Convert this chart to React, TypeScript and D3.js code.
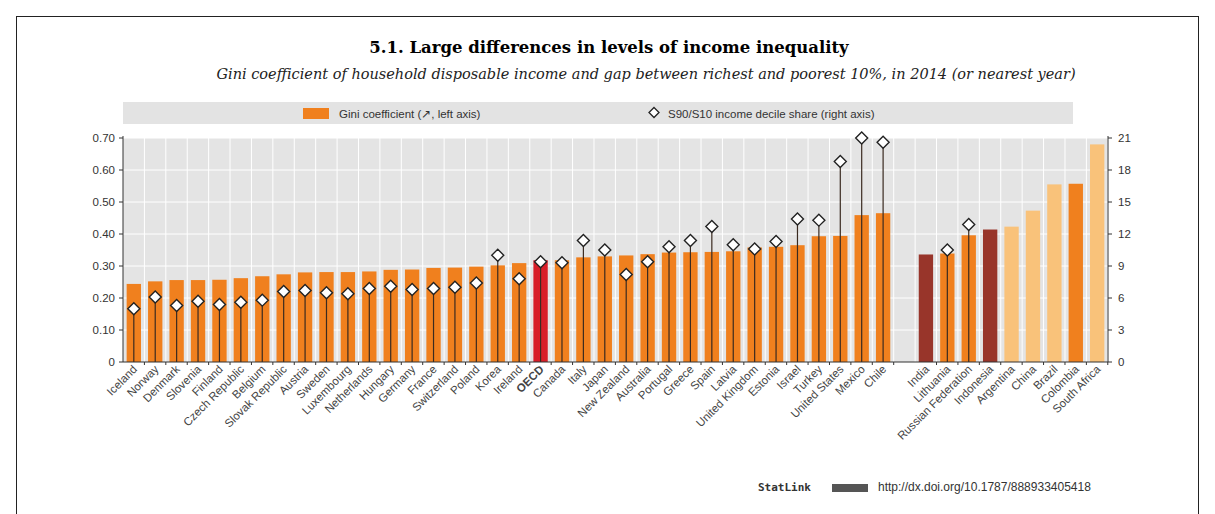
import React from "react";
import * as d3 from "d3";

const countries = ["Iceland","Norway","Denmark","Slovenia","Finland","Czech Republic","Belgium","Slovak Republic","Austria","Sweden","Luxembourg","Netherlands","Hungary","Germany","France","Switzerland","Poland","Korea","Ireland","OECD","Canada","Italy","Japan","New Zealand","Australia","Portugal","Greece","Spain","Latvia","United Kingdom","Estonia","Israel","Turkey","United States","Mexico","Chile","","India","Lithuania","Russian Federation","Indonesia","Argentina","China","Brazil","Colombia","South Africa"];
const gini = [0.244,0.252,0.256,0.256,0.257,0.262,0.268,0.274,0.280,0.281,0.281,0.283,0.288,0.289,0.294,0.295,0.298,0.302,0.309,0.318,0.318,0.327,0.330,0.333,0.337,0.342,0.343,0.344,0.346,0.358,0.360,0.365,0.393,0.394,0.459,0.465,null,0.336,0.339,0.396,0.414,0.423,0.473,0.555,0.557,0.68];
const s90s10 = [5.0,6.1,5.3,5.7,5.4,5.6,5.8,6.6,6.7,6.5,6.4,6.9,7.1,6.8,6.9,7.0,7.4,10.0,7.8,9.4,9.3,11.4,10.5,8.2,9.4,10.8,11.4,12.7,11.0,10.6,11.3,13.4,13.3,18.8,21.0,20.6,null,null,10.5,12.9,null,null,null,null,null,null];
const kinds = ["o","o","o","o","o","o","o","o","o","o","o","o","o","o","o","o","o","o","o","avg","o","o","o","o","o","o","o","o","o","o","o","o","o","o","o","o","","dark","o","o","dark","light","light","light","o","light"];
const leftTicks = [0,0.1,0.2,0.3,0.4,0.5,0.6,0.7];
const rightTicks = [0,3,6,9,12,15,18,21];

const colors: Record<string,string> = { o: "#f0801e", avg: "#d81e28", dark: "#98352a", light: "#f9c27a" };

export default function App() {
  const L = 123, R = 1108, T = 138, B = 362;
  const x = d3.scaleBand<number>().domain(d3.range(countries.length)).range([L, R]).paddingInner(0.33).paddingOuter(0.17);
  const yL = d3.scaleLinear().domain([0, 0.7]).range([B, T]);
  const yR = d3.scaleLinear().domain([0, 21]).range([B, T]);
  const slot = x.step();
  const font = "'Liberation Sans Narrow', 'Liberation Sans', Arial, sans-serif";
  return (
    <svg width={1215} height={514} style={{ position: "absolute", left: 0, top: 0, background: "#fff" }} fontFamily={font}>
      <rect x={16.5} y={16.5} width={1182} height={520} fill="none" stroke="#222" strokeWidth={1} />
      <text x={609} y={53} textAnchor="middle" fontFamily="'DejaVu Serif', serif" fontWeight="bold" fontSize={16.5}>5.1.  Large differences in levels of income inequality</text>
      <text x={646} y={79} textAnchor="middle" fontFamily="'DejaVu Serif', serif" fontStyle="italic" fontSize={14.5} fill="#222">Gini coefficient of household disposable income and gap between richest and poorest 10%, in 2014 (or nearest year)</text>
      <rect x={123} y={102} width={950} height={22} fill="#e3e3e3" />
      <rect x={303} y={108} width={26} height={11} fill={colors.o} />
      <text x={339} y={118} fontSize={11.5} fill="#333">Gini coefficient (↗, left axis)</text>
      <path d="M654,107.5 l5,5 l-5,5 l-5,-5 z" fill="#fff" stroke="#222" strokeWidth={1.3} />
      <text x={668} y={118} fontSize={11.5} fill="#333">S90/S10 income decile share (right axis)</text>
      <rect x={L} y={T} width={R - L} height={B - T} fill="#e4e4e4" />
      {d3.range(countries.length).map(i => (
        <line key={"vg" + i} x1={L + slot * (i + 1)} x2={L + slot * (i + 1)} y1={T} y2={B} stroke="#fff" strokeWidth={1} />
      ))}
      {leftTicks.slice(1).map(t => (
        <line key={"hg" + t} x1={L} x2={R} y1={yL(t)} y2={yL(t)} stroke="#fff" strokeWidth={1} />
      ))}
      {gini.map((g, i) => g == null ? null : (
        <rect key={"b" + i} x={x(i)} y={yL(g)} width={x.bandwidth()} height={B - yL(g)} fill={colors[kinds[i]]} />
      ))}
      {s90s10.map((s, i) => s == null ? null : (
        <g key={"d" + i}>
          <line x1={x(i)! + x.bandwidth() / 2} x2={x(i)! + x.bandwidth() / 2} y1={B} y2={yR(s)} stroke="#3a2a20" strokeWidth={1.2} />
          <path d={`M${x(i)! + x.bandwidth() / 2},${yR(s) - 6} l6,6 l-6,6 l-6,-6 z`} fill="#fff" stroke="#222" strokeWidth={1.4} />
        </g>
      ))}
      <line x1={L} x2={L} y1={T - 2} y2={B} stroke="#333" />
      <line x1={R} x2={R} y1={T - 2} y2={B} stroke="#333" />
      <line x1={L} x2={R} y1={B} y2={B} stroke="#333" />
      {leftTicks.map(t => (
        <g key={"lt" + t}>
          <line x1={L - 4} x2={L} y1={yL(t)} y2={yL(t)} stroke="#333" />
          <text x={L - 8} y={yL(t) + 4} textAnchor="end" fontSize={11.5} fill="#333">{t === 0 ? "0" : t.toFixed(2)}</text>
        </g>
      ))}
      {rightTicks.map(t => (
        <g key={"rt" + t}>
          <line x1={R} x2={R + 4} y1={yR(t)} y2={yR(t)} stroke="#333" />
          <text x={R + 10} y={yR(t) + 4} fontSize={11.5} fill="#333">{t}</text>
        </g>
      ))}
      {countries.map((c, i) => c === "" ? null : (
        <g key={"tk" + i}>
          <line x1={L + slot * (i + 1)} x2={L + slot * (i + 1)} y1={B} y2={B + 3} stroke="#333" />
          <text transform={`translate(${x(i)! + x.bandwidth() / 2 + 4},${B + 8}) rotate(-45)`} textAnchor="end" fontSize={11.5} fill="#444" fontWeight={c === "OECD" ? "bold" : "normal"}>{c}</text>
        </g>
      ))}
      <text x={758} y={491} fontSize={11} fontFamily="'DejaVu Sans Mono', monospace" fontWeight="bold" fill="#333">StatLink</text>
      <rect x={832} y={484} width={36} height={8} fill="#555" />
      <text x={878} y={491} fontSize={12} fill="#333">http://dx.doi.org/10.1787/888933405418</text>
    </svg>
  );
}
